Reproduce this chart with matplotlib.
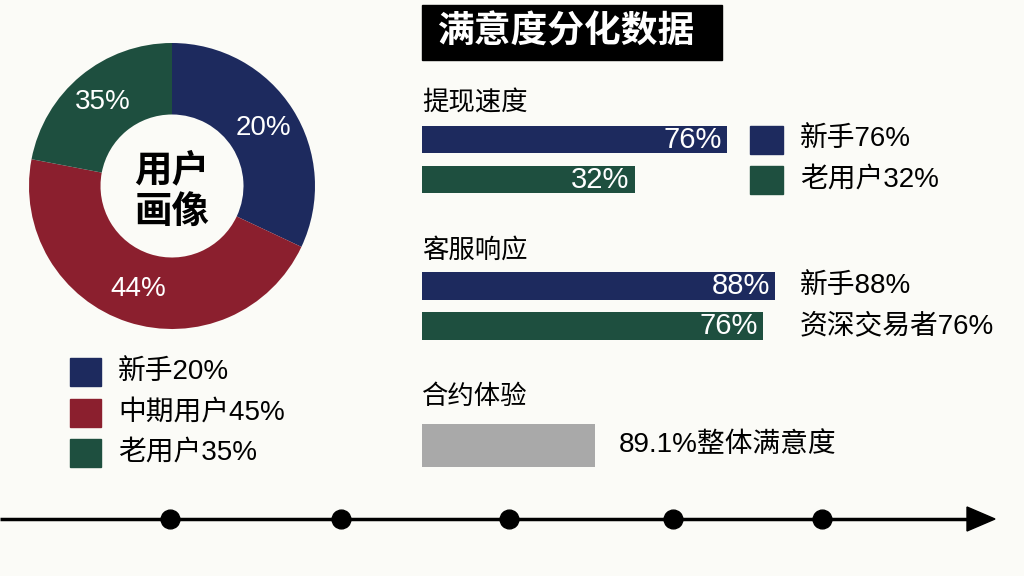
import matplotlib
matplotlib.use('Agg')
import matplotlib.pyplot as plt
from matplotlib.patches import Rectangle
import numpy as np

# Arial-like digits, CJK falls back to Noto
plt.rcParams['font.family'] = ['Liberation Sans', 'Noto Sans CJK SC', 'DejaVu Sans']

# donut: slice sizes as drawn in the picture (printed labels differ from geometry)
user_groups = ['新手', '中期用户', '老用户']
user_share = [32, 46, 22]
user_pct_labels = ['20%', '44%', '35%']
user_legend = ['新手20%', '中期用户45%', '老用户35%']

# satisfaction bars (lengths as drawn, labels as printed)
sections = ['提现速度', '客服响应', '合约体验']
speed_len = [76, 53]
speed_labels = ['76%', '32%']
speed_legend = ['新手76%', '老用户32%']
service_len = [88, 85]
service_labels = ['88%', '76%']
service_legend = ['新手88%', '资深交易者76%']
contract_len = [43]
contract_label = '89.1%整体满意度'
title = '满意度分化数据'

timeline_x = [170, 341, 509, 673, 822]

navy = '#1d2a5e'
red = '#8b1f2e'
green = '#1e4f3f'
grey = '#a9a9a9'
bg = '#fbfbf7'

W, H = 1024, 576
fig = plt.figure(figsize=(W / 100, H / 100), dpi=100, facecolor=bg)

# pixel overlay for layout bits
ax = fig.add_axes([0, 0, 1, 1])
ax.set_xlim(0, W)
ax.set_ylim(H, 0)
ax.axis('off')

# --- donut ---
cx, cy, r = 172, 186, 143
ax_pie = fig.add_axes([(cx - r) / W, 1 - (cy + r) / H, 2 * r / W, 2 * r / H])
wedges, _ = ax_pie.pie(user_share, colors=[navy, red, green], startangle=90,
                       counterclock=False, radius=1,
                       wedgeprops=dict(width=0.5, edgecolor='none'))
ax_pie.set_xlim(-1, 1)
ax_pie.set_ylim(-1, 1)
for w, lab in zip(wedges, user_pct_labels):
    ang = np.deg2rad((w.theta1 + w.theta2) / 2)
    ax_pie.text(0.76 * np.cos(ang), 0.76 * np.sin(ang), lab, color='white',
                fontsize=20, ha='center', va='center')
ax_pie.text(0, -0.04, '用户\n画像', fontsize=27, fontweight='bold',
            ha='center', va='center', linespacing=1.2)

# donut legend
for i, (lab, c) in enumerate(zip(user_legend, [navy, red, green])):
    yc = 372 + i * 40.5
    ax.add_patch(Rectangle((70, yc - 14), 31, 28, color=c))
    ax.text(118, yc, lab, fontsize=20, va='center', ha='left')

# --- bars ---
px_per = 4.013
bx0 = 422
ax_bar = fig.add_axes([bx0 / W, 0, (W - bx0) / W, 1])
ax_bar.set_xlim(0, (W - bx0) / px_per)
ax_bar.set_ylim(H, 0)
ax_bar.axis('off')
ax_bar.patch.set_alpha(0)

speed_y = [139.5, 179.5]
service_y = [286, 326]
contract_y = [445]
bar_h = 27.5

ax_bar.barh(speed_y, speed_len, height=bar_h, color=[navy, green])
ax_bar.barh(service_y, service_len, height=bar_h, color=[navy, green])
ax_bar.barh(contract_y, contract_len, height=43, color=grey)

for ys, ls, labs in [(speed_y, speed_len, speed_labels),
                     (service_y, service_len, service_labels)]:
    for y, l, lab in zip(ys, ls, labs):
        ax_bar.text(l - 1.3, y, lab, color='white', fontsize=21,
                    ha='right', va='center')

ax_bar.text(contract_len[0] + 6, contract_y[0], contract_label,
            fontsize=20, ha='left', va='center')

# section headings
for lab, y in zip(sections, [103, 250, 397]):
    ax.text(422, y, lab, fontsize=19, ha='left', va='center')

# legends beside bars
for y, lab, c in zip(speed_y, speed_legend, [navy, green]):
    ax.add_patch(Rectangle((750, y - 14), 33, 28, color=c))
    ax.text(800, y, lab, fontsize=20, ha='left', va='center')
for y, lab in zip(service_y, service_legend):
    ax.text(800, y, lab, fontsize=20, ha='left', va='center')

# title box
ax.add_patch(Rectangle((422, 5), 300, 55, color='black'))
ax.text(437, 33, title, color='white', fontsize=26.5, fontweight='bold',
        ha='left', va='center')

# --- timeline ---
ty = 519
ax.plot([0, 970], [ty, ty], color='black', lw=2.5, solid_capstyle='butt')
ax.fill([967, 995, 967], [507, ty, 531], color='black')
ax.plot(timeline_x, [ty] * len(timeline_x), 'o', ms=13.5, color='black')

fig.savefig('out.png', dpi=100, facecolor=bg)
